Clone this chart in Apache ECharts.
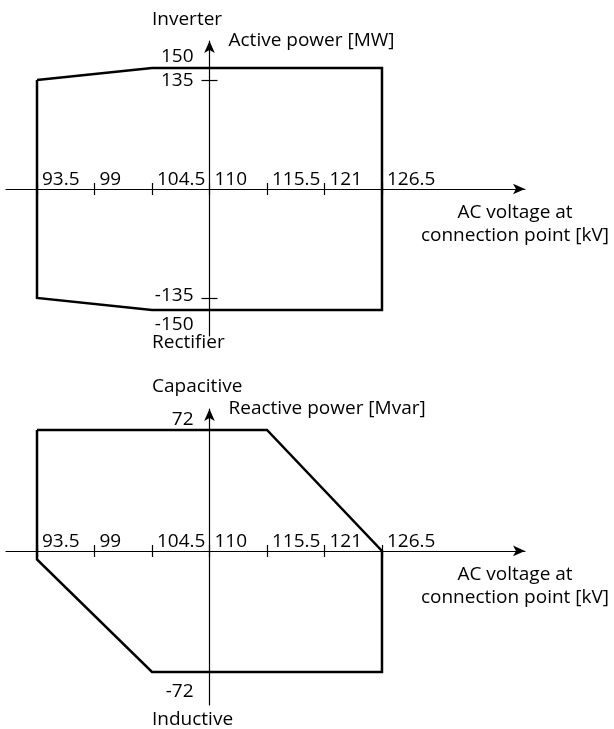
<!DOCTYPE html>
<html>
<head>
<meta charset="utf-8">
<script src="https://cdn.jsdelivr.net/npm/echarts@6/dist/echarts.min.js"></script>
<style>
html, body { margin: 0; padding: 0; background: #fff; }
#chart { width: 614px; height: 729px; }
</style>
</head>
<body>
<div id="chart"></div>
<script>
// voltage ticks shared by both diagrams [kV]
const voltageTicks = [93.5, 99, 104.5, 110, 115.5, 121, 126.5];
const nominalVoltage = 110;

// active power capability outline (kV, MW)
const pVoltage = [93.5, 104.5, 126.5, 126.5, 104.5, 93.5, 93.5];
const pPower = [135, 150, 150, -150, -150, -135, 135];
const pTicks = [150, 135, -135, -150];
const pTickMarks = [135, -135];

// reactive power capability outline (kV, Mvar)
const qVoltage = [93.5, 115.5, 126.5, 126.5, 104.5, 93.5, 93.5];
const qPower = [72, 72, 0, -72, -72, -5, 72];
const qTicks = [72, -72];

const FONT = '"Open Sans", "Noto Sans", sans-serif';
const FS = 19;
const X_MIN = 90.535, X_MAX = 140.18;
const GRID_LEFT = 6, GRID_W = 519;
const Y_OFF = -(nominalVoltage - X_MIN) / (X_MAX - X_MIN) * GRID_W;

const grids = [
  { top: 41, height: 295, min: -182.2, max: 183.4 },
  { top: 409, height: 296, min: -91.7, max: 84.5 }
];

// vertical shift of the y labels (px, + = up)
const labelShift = { '150': 11, '135': -1, '-135': 2, '-150': -15, '72': 10, '-72': -20 };

const line = { color: '#000', width: 1.2 };
const txt = { color: '#000', fontFamily: FONT, fontSize: FS };

function xAxes(gridIndex) {
  const g = grids[gridIndex];
  // move the horizontal axis up from the grid bottom to y = 0
  const off = -(g.height - g.max / (g.max - g.min) * g.height);
  return [{
    type: 'value', gridIndex, min: X_MIN, max: X_MAX, position: 'bottom', offset: off,
    axisLine: { onZero: false, symbol: ['none', 'arrow'], symbolSize: [8, 12], lineStyle: line },
    axisTick: { customValues: voltageTicks, length: 6, lineStyle: line },
    axisLabel: Object.assign({
      customValues: voltageTicks, inside: true, align: 'left', verticalAlign: 'bottom',
      margin: 0, padding: [0, 0, 0, 5], hideOverlap: false
    }, txt),
    splitLine: { show: false },
    name: 'AC voltage at\nconnection point [kV]',
    nameLocation: 'end', nameGap: -10, nameMoveOverlap: false,
    nameTextStyle: Object.assign({ align: 'center', verticalAlign: 'top', lineHeight: 23, padding: [12, 0, 0, 0] }, txt)
  }, {
    type: 'value', gridIndex, min: X_MIN, max: X_MAX, position: 'bottom', offset: off,
    axisLine: { show: false, onZero: false },
    axisTick: { customValues: voltageTicks, inside: true, length: 6, lineStyle: line },
    axisLabel: { show: false },
    splitLine: { show: false }
  }];
}

function richFor(ticks) {
  const rich = {};
  ticks.forEach((v) => {
    const s = labelShift[String(v)] || 0;
    rich['t' + String(v).replace('-', 'm')] = Object.assign({
      padding: s > 0 ? [0, 0, 2 * s, 0] : [-2 * s, 0, 0, 0]
    }, txt);
  });
  return rich;
}

function yAxes(gridIndex, ticks, marks, name) {
  const g = grids[gridIndex];
  return [{
    type: 'value', gridIndex, min: g.min, max: g.max, position: 'left', offset: Y_OFF,
    axisLine: { show: true, onZero: false, symbol: ['none', 'arrow'], symbolSize: [8, 12], lineStyle: line },
    axisTick: { show: marks.length > 0, customValues: marks.length ? marks : ticks, length: 8, lineStyle: line },
    axisLabel: Object.assign({
      customValues: ticks, margin: 16, hideOverlap: false,
      formatter: (v) => `{t${String(v).replace('-', 'm')}|${v}}`,
      rich: richFor(ticks)
    }, txt),
    splitLine: { show: false },
    name, nameLocation: 'end', nameGap: 0, nameMoveOverlap: false,
    nameTextStyle: Object.assign({ align: 'left', verticalAlign: 'middle', padding: [0, 0, 0, 19] }, txt)
  }, {
    type: 'value', gridIndex, min: g.min, max: g.max, position: 'left', offset: Y_OFF,
    axisLine: { show: false, onZero: false },
    axisTick: { show: marks.length > 0, customValues: marks.length ? marks : ticks, inside: true, length: 8, lineStyle: line },
    axisLabel: { show: false },
    splitLine: { show: false }
  }];
}

function outline(xs, ys, xi, yi) {
  return {
    type: 'line', xAxisIndex: xi, yAxisIndex: yi,
    data: xs.map((x, i) => [x, ys[i]]),
    symbol: 'none', silent: true, clip: false,
    lineStyle: { color: '#000', width: 2.5, join: 'miter' }
  };
}

function caption(text, x, y) {
  return { type: 'text', x, y, style: { text, fill: '#000', font: `${FS}px ${FONT}`, verticalAlign: 'middle' } };
}

const chart = echarts.init(document.getElementById('chart'));
chart.setOption({
  animation: false,
  backgroundColor: '#fff',
  grid: grids.map((g) => ({ left: GRID_LEFT, width: GRID_W, top: g.top, height: g.height, outerBoundsMode: 'none' })),
  xAxis: [...xAxes(0), ...xAxes(1)],
  yAxis: [
    ...yAxes(0, pTicks, pTickMarks, 'Active power [MW]'),
    ...yAxes(1, qTicks, [], 'Reactive power [Mvar]')
  ],
  graphic: [
    caption('Inverter', 152, 20),
    caption('Rectifier', 152, 343),
    caption('Capacitive', 152, 387),
    caption('Inductive', 152, 720)
  ],
  series: [
    outline(pVoltage, pPower, 0, 0),
    outline(qVoltage, qPower, 2, 2)
  ]
});
</script>
</body>
</html>
